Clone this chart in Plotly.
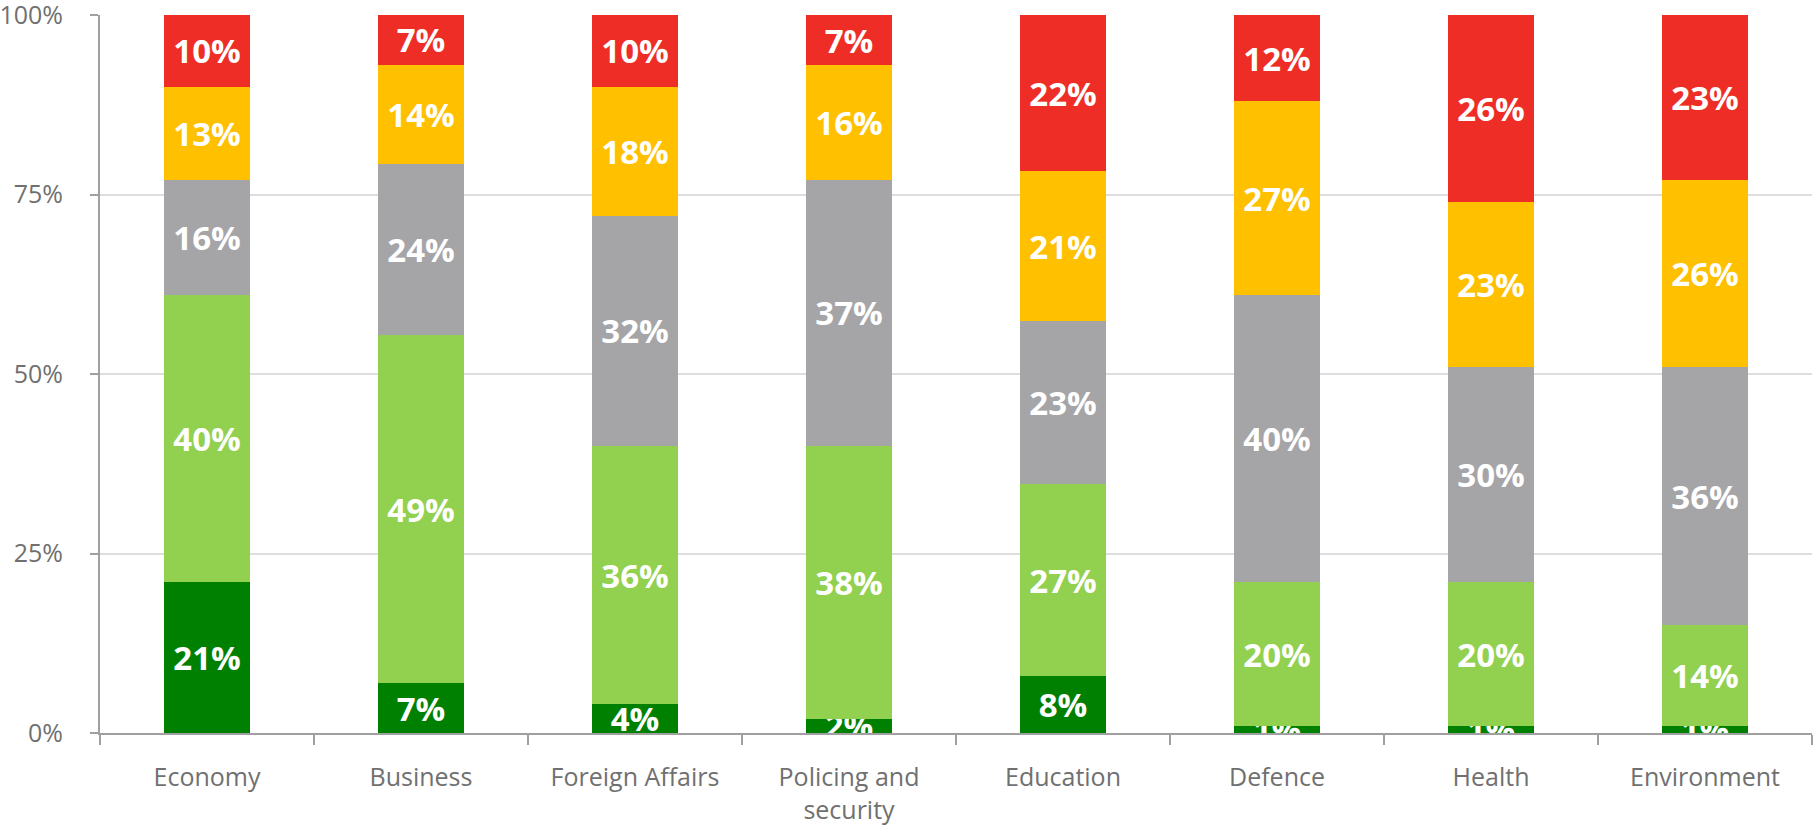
import plotly.graph_objects as go

categories = ["Economy", "Business", "Foreign Affairs", "Policing and<br>security",
              "Education", "Defence", "Health", "Environment"]
series_names = ["Very good", "Good", "Neutral", "Poor", "Very poor"]
dark_green = [21, 7, 4, 2, 8, 1, 1, 1]
light_green = [40, 49, 36, 38, 27, 20, 20, 14]
grey = [16, 24, 32, 37, 23, 40, 30, 36]
yellow = [13, 14, 18, 16, 21, 27, 23, 26]
red = [10, 7, 10, 7, 22, 12, 26, 23]
tick_vals = [0, 25, 50, 75, 100]
tick_text = ["0%", "25%", "50%", "75%", "100%"]

series = [dark_green, light_green, grey, yellow, red]
colors = ["#008000", "#92D050", "#A5A5A8", "#FFC000", "#EE2E26"]

fig = go.Figure()
for name, vals, col in zip(series_names, series, colors):
    fig.add_trace(go.Bar(
        x=categories, y=vals, name=name,
        marker=dict(color=col, line=dict(width=0)),
        text=[f"{v}%" for v in vals],
        textposition="inside",
        insidetextanchor="middle",
        textangle=0,
        constraintext="none",
        cliponaxis=True,
        textfont=dict(family="Open Sans", size=33, color="white", weight="bold"),
    ))

fig.update_layout(
    barmode="stack",
    barnorm="percent",
    bargap=0.6,
    width=1816, height=829,
    margin=dict(l=100, r=4, t=15, b=96, autoexpand=False),
    paper_bgcolor="white", plot_bgcolor="white",
    showlegend=False,
    font=dict(family="Open Sans", color="#707070"),
)
fig.update_yaxes(
    range=[0, 100.0001], tickvals=tick_vals, ticktext=tick_text,
    showgrid=True, gridcolor="#DEDEDE", gridwidth=2,
    showline=True, linecolor="#A0A0A0", linewidth=2,
    ticks="outside", ticklen=8, tickcolor="#A0A0A0", tickwidth=2,
    tickfont=dict(size=25, color="#707070"),
    ticklabelstandoff=22, zeroline=False,
    automargin=False, ticklabeloverflow="allow",
)
fig.update_xaxes(
    showline=True, linecolor="#A0A0A0", linewidth=2,
    ticks="outside", ticklen=10, tickcolor="#A0A0A0", tickwidth=2,
    tickson="boundaries",
    tickfont=dict(size=25, color="#707070"),
    ticklabelstandoff=21, automargin=False,
)

fig.write_html(
    "out.html",
    config={"displayModeBar": False},
    post_script="document.body.style.margin='0';document.body.style.overflow='hidden';",
)
